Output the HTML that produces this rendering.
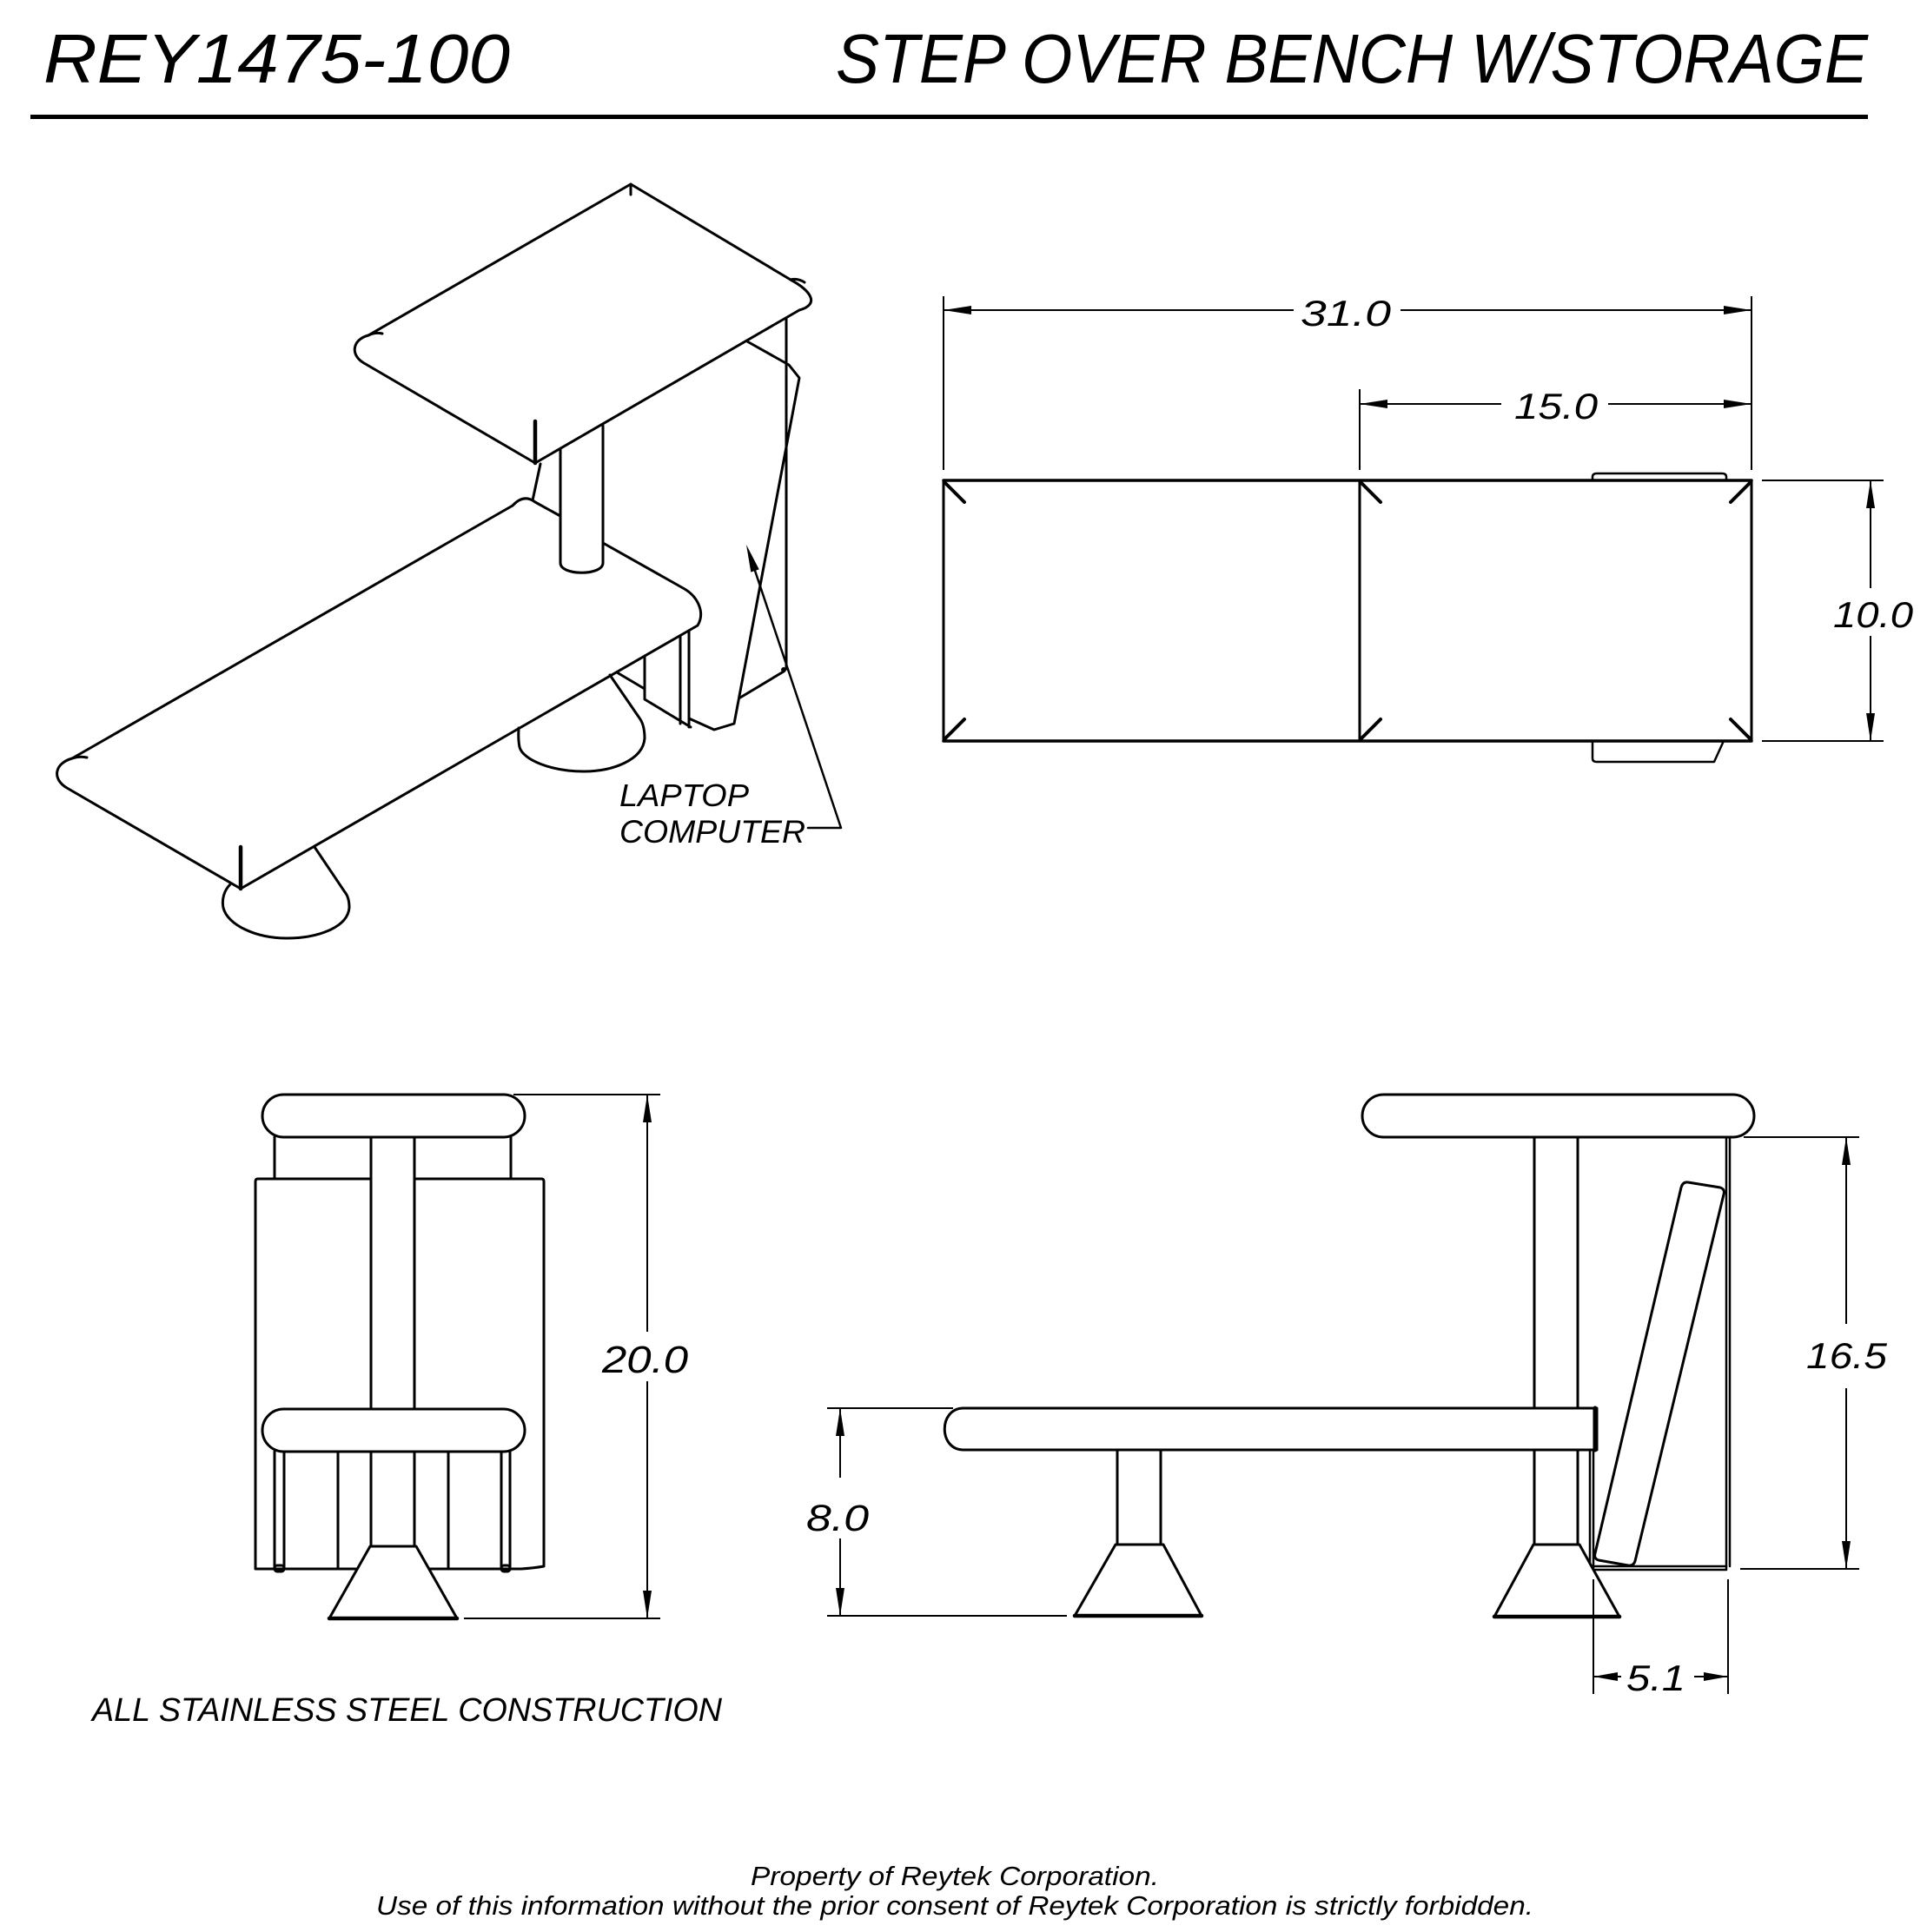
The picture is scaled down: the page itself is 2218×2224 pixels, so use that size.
<!DOCTYPE html>
<html>
<head>
<meta charset="utf-8">
<style>
  html, body { margin: 0; padding: 0; background: #ffffff; }
  body { width: 2218px; height: 2224px; overflow: hidden; }
  svg { display: block; }
  .t { font-family: "Liberation Sans", "DejaVu Sans", sans-serif; font-style: italic; fill: #000; }
</style>
</head>
<body>
<svg width="2218" height="2224" viewBox="0 0 2218 2224" xmlns="http://www.w3.org/2000/svg">
  <rect x="0" y="0" width="2218" height="2224" fill="#fff"/>

  <!-- ===== HEADER ===== -->
  <text class="t" x="50" y="95" font-size="80" textLength="537" lengthAdjust="spacingAndGlyphs">REY1475-100</text>
  <text class="t" x="962" y="95" font-size="80" textLength="1188" lengthAdjust="spacingAndGlyphs">STEP OVER BENCH W/STORAGE</text>
  <rect x="35" y="132" width="2115" height="5" fill="#000"/>

  <!-- ===== ISOMETRIC VIEW ===== -->
  <g fill="none" stroke="#000" stroke-width="3" stroke-linecap="round" stroke-linejoin="round">
    <!-- storage box behind -->
    <line x1="905" y1="365" x2="905" y2="770"/>
    <polyline points="860,393 908,420 920,435 845,833 822,840 793,827"/>
    <line x1="852" y1="803" x2="902" y2="773"/>
    <!-- upper seat -->
    <path d="M616,533 L419,418 C403,409 405,391 424,386 L726,212 L910,322 C932,334 945,350 920,357 Z" fill="#fff"/>
    <line x1="726" y1="212" x2="726" y2="224"/>
    <path d="M424,386 Q432,382 440,384"/>
    <path d="M910,322 Q918,320 926,325"/>
    <line x1="616" y1="485" x2="616" y2="533" stroke-width="4.5"/>
    <!-- back edge under upper seat -->
    <line x1="622" y1="534" x2="613" y2="576"/>
    <!-- upper post -->
    <path d="M645,517 L645,648 C645,663 694,663 694,648 L694,490"/>
    <!-- lower bench -->
    <path d="M590,582 Q603,568 616,578 L645,594"/>
    <path d="M694,625 L788,678 C803,687 812,705 803,720 L277,1023 L77,907 C60,897 62,879 83,873 L590,582"/>
    <path d="M83,873 Q92,870 100,872"/>
    <line x1="277" y1="975" x2="277" y2="1023" stroke-width="4.5"/>
    <!-- front leg -->
    <path d="M362,975 L397,1027 Q402,1033 402,1045 C400,1068 365,1080 330,1080 C295,1080 262,1065 257,1045 C255,1035 258,1025 265,1018"/>
    <!-- back leg -->
    <path d="M702,777 L737,828 Q742,836 742,850 C740,875 705,888 672,888 C635,888 602,875 598,860 C596,850 597,843 597,838"/>
    <!-- under-bench box -->
    <line x1="710" y1="774" x2="742" y2="793"/>
    <polyline points="742,755 742,805 795,837"/>
    <line x1="783" y1="732" x2="783" y2="833"/>
    <line x1="793" y1="726" x2="793" y2="837"/>
    <!-- leader -->
    <polyline points="864,642 968,953 930,953" stroke-width="2.5"/>
  </g>
  <circle cx="902" cy="771" r="3" fill="#000"/>
  <polygon points="859,627 873.7,655.4 864.3,658.6" fill="#000"/>
  <text class="t" x="713" y="928" font-size="36" textLength="149" lengthAdjust="spacingAndGlyphs">LAPTOP</text>
  <text class="t" x="713" y="970" font-size="37" textLength="214" lengthAdjust="spacingAndGlyphs">COMPUTER</text>

  <!-- ===== PLAN VIEW ===== -->
  <g fill="none" stroke="#000" stroke-width="3" stroke-linecap="round" stroke-linejoin="round">
    <path d="M1833,553 L1833,549 Q1833,545 1838,545 L1982,545 Q1987,545 1987,549 L1987,553" stroke-width="2.5"/>
    <path d="M1833,853 L1833,873 Q1833,877 1838,877 L1973,877 L1983,855" stroke-width="2.5"/>
    <line x1="1086" y1="553" x2="2016" y2="553" stroke-width="3.5"/>
    <line x1="1086" y1="853" x2="2016" y2="853" stroke-width="3.5"/>
    <line x1="1086" y1="553" x2="1086" y2="853"/>
    <line x1="1565" y1="553" x2="1565" y2="853"/>
    <line x1="2016" y1="553" x2="2016" y2="853"/>
    <g stroke-width="4">
      <line x1="1087" y1="555" x2="1110" y2="578"/>
      <line x1="1087" y1="851" x2="1110" y2="828"/>
      <line x1="1566" y1="555" x2="1589" y2="578"/>
      <line x1="1566" y1="851" x2="1589" y2="828"/>
      <line x1="2015" y1="555" x2="1992" y2="578"/>
      <line x1="2015" y1="851" x2="1992" y2="828"/>
    </g>
  </g>
  <g fill="none" stroke="#000" stroke-width="2">
    <!-- 31.0 -->
    <line x1="1086" y1="341" x2="1086" y2="541"/>
    <line x1="2016" y1="341" x2="2016" y2="541"/>
    <line x1="1086" y1="357" x2="1489" y2="357"/>
    <line x1="1612" y1="357" x2="2016" y2="357"/>
    <!-- 15.0 -->
    <line x1="1565" y1="448" x2="1565" y2="541"/>
    <line x1="1565" y1="465" x2="1728" y2="465"/>
    <line x1="1851" y1="465" x2="2016" y2="465"/>
    <!-- 10.0 -->
    <line x1="2028" y1="553" x2="2168" y2="553"/>
    <line x1="2028" y1="853" x2="2168" y2="853"/>
    <line x1="2153" y1="553" x2="2153" y2="677"/>
    <line x1="2153" y1="732" x2="2153" y2="853"/>
  </g>
  <g fill="#000">
    <polygon points="1086,357 1118,352 1118,362"/>
    <polygon points="2016,357 1984,352 1984,362"/>
    <polygon points="1565,465 1597,460 1597,470"/>
    <polygon points="2016,465 1984,460 1984,470"/>
    <polygon points="2153,553 2148,585 2158,585"/>
    <polygon points="2153,853 2148,821 2158,821"/>
  </g>
  <text class="t" x="1497" y="375" font-size="42" textLength="104" lengthAdjust="spacingAndGlyphs">31.0</text>
  <text class="t" x="1743" y="482" font-size="42" textLength="96" lengthAdjust="spacingAndGlyphs">15.0</text>
  <text class="t" x="2110" y="722" font-size="42" textLength="92" lengthAdjust="spacingAndGlyphs">10.0</text>

  <!-- ===== FRONT VIEW ===== -->
  <g fill="none" stroke="#000" stroke-width="3" stroke-linecap="round" stroke-linejoin="round">
    <!-- box -->
    <path d="M427,1357 L297,1357 Q294,1357 294,1360 L294,1806 L600,1806 Q615,1805 626,1803 L626,1360 Q626,1357 623,1357 L477,1357"/>
    <!-- under upper seat -->
    <line x1="316" y1="1309" x2="316" y2="1357"/>
    <line x1="588" y1="1309" x2="588" y2="1357"/>
    <!-- post -->
    <line x1="427" y1="1309" x2="427" y2="1622"/>
    <line x1="477" y1="1309" x2="477" y2="1622"/>
    <line x1="427" y1="1671" x2="427" y2="1780"/>
    <line x1="477" y1="1671" x2="477" y2="1780"/>
    <!-- legs under lower seat -->
    <line x1="316" y1="1671" x2="316" y2="1806"/>
    <line x1="327" y1="1671" x2="327" y2="1806"/>
    <line x1="389" y1="1671" x2="389" y2="1806"/>
    <line x1="516" y1="1671" x2="516" y2="1806"/>
    <line x1="577" y1="1671" x2="577" y2="1806"/>
    <line x1="587" y1="1671" x2="587" y2="1806"/>
    <rect x="316" y="1802" width="11" height="7" rx="3"/>
    <rect x="577" y="1802" width="10" height="7" rx="3"/>
    <!-- seats -->
    <rect x="302" y="1260" width="302" height="49" rx="24.5" ry="24.5" fill="#fff"/>
    <rect x="302" y="1622" width="302" height="49" rx="24.5" ry="24.5" fill="#fff"/>
    <!-- base -->
    <polygon points="426,1780 479,1780 526,1863 379,1863" fill="#fff"/>
    <line x1="379" y1="1863" x2="526" y2="1863" stroke-width="4.5"/>
  </g>
  <g fill="none" stroke="#000" stroke-width="2">
    <line x1="591" y1="1260" x2="760" y2="1260"/>
    <line x1="534" y1="1863" x2="760" y2="1863"/>
    <line x1="745" y1="1260" x2="745" y2="1533"/>
    <line x1="745" y1="1590" x2="745" y2="1863"/>
  </g>
  <polygon points="745,1260 740,1292 750,1292" fill="#000"/>
  <polygon points="745,1863 740,1831 750,1831" fill="#000"/>
  <text class="t" x="693" y="1580" font-size="44" textLength="99" lengthAdjust="spacingAndGlyphs">20.0</text>

  <!-- ===== SIDE VIEW ===== -->
  <g fill="none" stroke="#000" stroke-width="3" stroke-linecap="round" stroke-linejoin="round">
    <!-- post -->
    <line x1="1766" y1="1309" x2="1766" y2="1778"/>
    <line x1="1816" y1="1309" x2="1816" y2="1778"/>
    <!-- box -->
    <line x1="1987" y1="1309" x2="1987" y2="1806" stroke-width="2.5"/>
    <line x1="1991" y1="1309" x2="1991" y2="1803" stroke-width="2.5"/>
    <line x1="1834" y1="1803" x2="1987" y2="1803" stroke-width="2.5"/>
    <line x1="1834" y1="1807" x2="1987" y2="1807" stroke-width="2.5"/>
    <line x1="1830" y1="1669" x2="1830" y2="1807" stroke-width="2.5"/>
    <line x1="1834" y1="1669" x2="1834" y2="1807" stroke-width="2.5"/>
    <!-- laptop -->
    <path d="M1943,1361 L1980,1367 Q1986,1369 1984,1375 L1882,1797 Q1880,1803 1874,1802 L1840,1796 Q1834,1794 1836,1788 L1935,1367 Q1937,1360 1943,1361 Z"/>
    <!-- upper seat -->
    <rect x="1568" y="1260" width="451" height="49" rx="24.5" ry="24.5" fill="#fff"/>
    <!-- lower seat -->
    <path d="M1838,1621 L1109,1621 C1080,1621 1080,1669 1109,1669 L1838,1669 Z" fill="#fff"/>
    <line x1="1836" y1="1621" x2="1836" y2="1669" stroke-width="5"/>
    <!-- front leg -->
    <line x1="1286" y1="1669" x2="1286" y2="1778"/>
    <line x1="1336" y1="1669" x2="1336" y2="1778"/>
    <polygon points="1284,1778 1339,1778 1383,1860 1237,1860" fill="#fff"/>
    <line x1="1237" y1="1860" x2="1383" y2="1860" stroke-width="4.5"/>
    <!-- back leg -->
    <polygon points="1765,1778 1818,1778 1864,1861 1720,1861" fill="#fff"/>
    <line x1="1720" y1="1861" x2="1864" y2="1861" stroke-width="4.5"/>
  </g>
  <g fill="none" stroke="#000" stroke-width="2">
    <!-- 8.0 -->
    <line x1="952" y1="1621" x2="1097" y2="1621"/>
    <line x1="952" y1="1860" x2="1228" y2="1860"/>
    <line x1="967" y1="1621" x2="967" y2="1701"/>
    <line x1="967" y1="1771" x2="967" y2="1860"/>
    <!-- 16.5 -->
    <line x1="2007" y1="1309" x2="2140" y2="1309"/>
    <line x1="2003" y1="1806" x2="2140" y2="1806"/>
    <line x1="2125" y1="1309" x2="2125" y2="1524"/>
    <line x1="2125" y1="1598" x2="2125" y2="1806"/>
    <!-- 5.1 -->
    <line x1="1834" y1="1818" x2="1834" y2="1950"/>
    <line x1="1989" y1="1818" x2="1989" y2="1950"/>
    <line x1="1834" y1="1930" x2="1866" y2="1930"/>
    <line x1="1950" y1="1930" x2="1989" y2="1930"/>
  </g>
  <g fill="#000">
    <polygon points="967,1621 962,1653 972,1653"/>
    <polygon points="967,1860 962,1828 972,1828"/>
    <polygon points="2125,1309 2120,1341 2130,1341"/>
    <polygon points="2125,1806 2120,1774 2130,1774"/>
    <polygon points="1834,1930 1862,1925 1862,1935"/>
    <polygon points="1989,1930 1961,1925 1961,1935"/>
  </g>
  <text class="t" x="928" y="1762" font-size="43" textLength="72" lengthAdjust="spacingAndGlyphs">8.0</text>
  <text class="t" x="2079" y="1575" font-size="42" textLength="93" lengthAdjust="spacingAndGlyphs">16.5</text>
  <text class="t" x="1872" y="1946" font-size="42" textLength="68" lengthAdjust="spacingAndGlyphs">5.1</text>

  <!-- ===== NOTES ===== -->
  <text class="t" x="106" y="1981" font-size="38" textLength="725" lengthAdjust="spacingAndGlyphs">ALL STAINLESS STEEL CONSTRUCTION</text>
  <text class="t" x="864" y="2170" font-size="31" textLength="470" lengthAdjust="spacingAndGlyphs">Property of Reytek Corporation.</text>
  <text class="t" x="433" y="2204" font-size="31" textLength="1332" lengthAdjust="spacingAndGlyphs">Use of this information without the prior consent of Reytek Corporation is strictly forbidden.</text>
</svg>
</body>
</html>
